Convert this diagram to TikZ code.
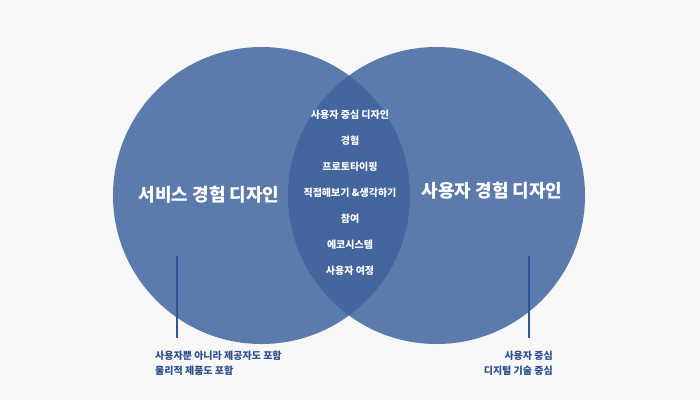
\documentclass[tikz,border=0pt]{standalone}
\usepackage{fontspec}
\setmainfont{Noto Sans CJK KR}
\definecolor{bg}{HTML}{F7F7F7}
\definecolor{circ}{HTML}{5A7BAB}
\definecolor{ovl}{HTML}{44659E}
\definecolor{lnc}{HTML}{2F5597}
\definecolor{txc}{HTML}{2D4F8F}
\begin{document}
\begin{tikzpicture}[x=1pt,y=-1pt,
  mid/.style={text=white,font=\fontsize{10}{12}\selectfont\bfseries},
  ttl/.style={text=white,font=\fontsize{18}{21}\selectfont\bfseries},
  note/.style={text=txc,font=\fontsize{10}{15}\selectfont\bfseries,align=left,inner sep=0pt},
  lead/.style={draw=lnc,line width=1.2pt}]
\fill[bg] (0,0) rectangle (700,400);
\useasboundingbox (0,0) rectangle (700,400);
\fill[circ] (261.5,195.5) circle (148.5);
\fill[circ] (436.5,195.5) circle (148.5);
\begin{scope}
\clip (261.5,195.5) circle (148.5);
\fill[ovl] (436.5,195.5) circle (148.5);
\end{scope}
\node[ttl] (lt) at (209,195) {서비스 경험 디자인};
\node[ttl] (rt) at (492,191) {사용자 경험 디자인};
\node[mid] (m1) at (350,115) {사용자 중심 디자인};
\node[mid] (m2) at (350,141) {경험};
\node[mid] (m3) at (350,167) {프로토타이핑};
\node[mid] (m4) at (350,193) {직접해보기 \&생각하기};
\node[mid] (m5) at (350,219) {참여};
\node[mid] (m6) at (350,245) {에코시스템};
\node[mid] (m7) at (350,271) {사용자 여정};
\coordinate (la) at (177,256); \coordinate (lb) at (177,338);
\coordinate (ra) at (529,256); \coordinate (rb) at (529,338);
\draw[lead] (la) -- (lb);
\draw[lead] (ra) -- (rb);
\node[note,anchor=north west] (ln) at (155,351) {사용자뿐 아니라 제공자도 포함\\물리적 제품도 포함};
\node[note,anchor=north east,align=right] (rn) at (553,351) {사용자 중심\\디지털 기술 중심};
\end{tikzpicture}
\end{document}
